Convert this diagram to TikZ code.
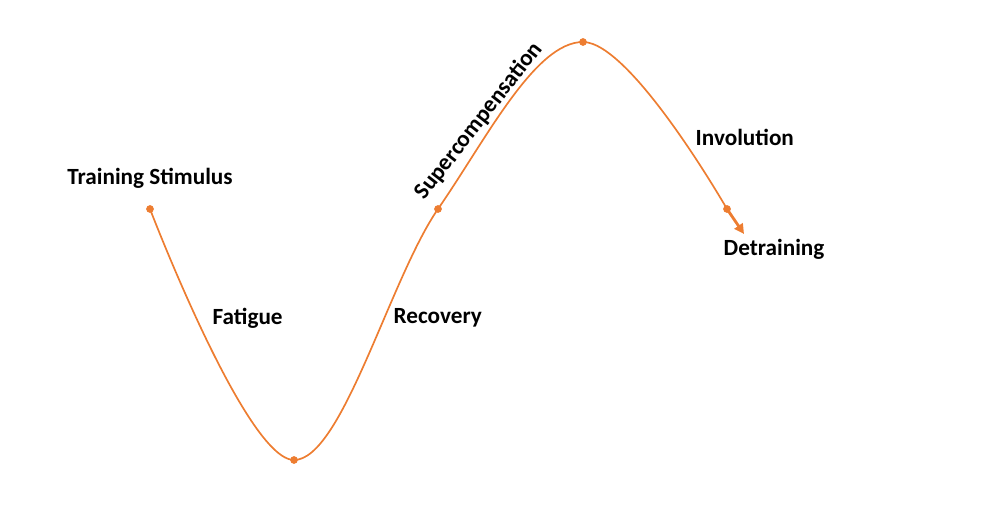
\documentclass[tikz,border=0pt]{standalone}
\usepackage{fontspec}
\setmainfont{Carlito}
\usetikzlibrary{arrows.meta}
\definecolor{curveorange}{RGB}{237,125,49}
\tikzset{
  phase/.style={font=\bfseries\fontsize{16.5}{19}\selectfont, text=black, inner sep=1pt},
  stage/.style={fill=curveorange, circle, inner sep=0pt, minimum size=5.5pt}
}
\begin{document}
\begin{tikzpicture}[x=0.025cm, y=0.025cm]
    \useasboundingbox (0,0) rectangle (1006,506);
    % Points along the curve
    \coordinate (ts) at (150,297);
    \coordinate (low) at (294,46);
    \coordinate (rec) at (438,297);
    \coordinate (peak) at (583,464);
    \coordinate (inv) at (727,297);
    \coordinate (det) at (744,272);

    % Draw the supercompensation curve
    \draw[curveorange, line width=1.2pt] plot[smooth, tension=0.6] coordinates {(ts) (low) (rec) (peak) (inv)};
    \draw[curveorange, line width=2pt, -{Triangle[length=7pt, width=7pt]}] (inv) -- (det);

    % Mark the stages
    \foreach \p in {ts, low, rec, peak, inv} {
        \node[stage] (dot-\p) at (\p) {};
    }

    % Label the phases
    \node[phase] (stimulus) at (150,328) {Training Stimulus};
    \node[phase, anchor=west] (fatigue) at (211,188) {Fatigue};
    \node[phase, anchor=west] (recovery) at (392,188) {Recovery};
    \node[phase, rotate=52] (supercomp) at (479,385) {Supercompensation};
    \node[phase, anchor=west] (involution) at (694,369) {Involution};
    \node[phase, anchor=west] (detraining) at (722,257) {Detraining};
\end{tikzpicture}
\end{document}
